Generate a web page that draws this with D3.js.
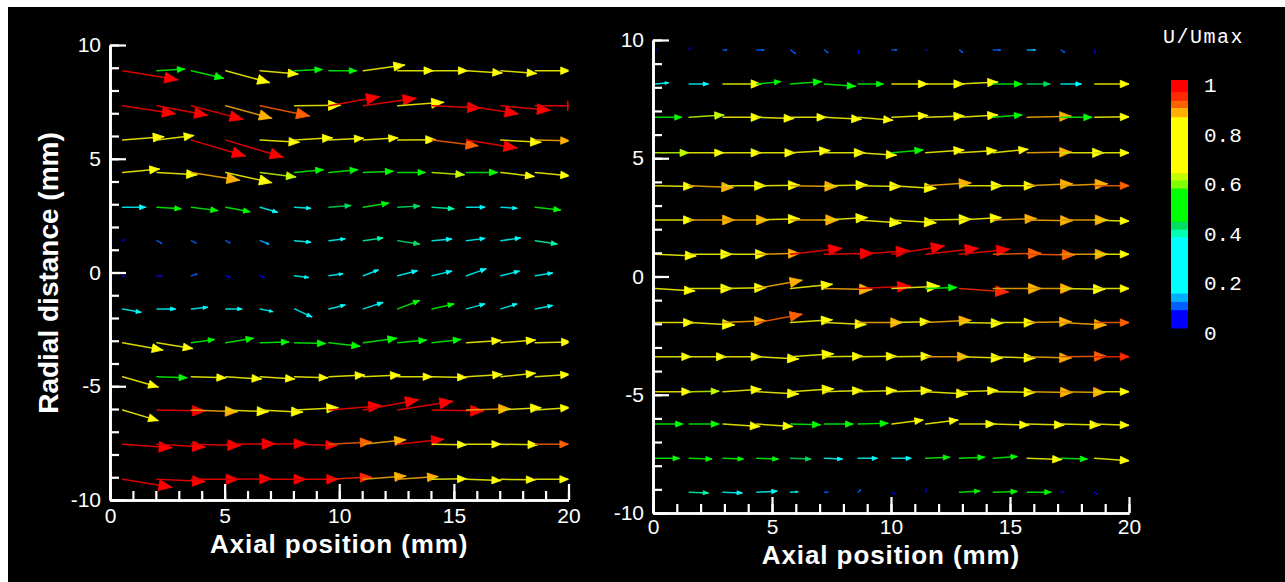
<!DOCTYPE html>
<html>
<head>
<meta charset="utf-8">
<script src="https://cdn.jsdelivr.net/npm/d3@7"></script>
<style>
  html, body { margin: 0; padding: 0; background: #fff; }
  svg { display: block; }
  .axis text { fill: #fff; font-family: "Liberation Sans", Arial, sans-serif; font-size: 21px; }
  .axis path, .axis line { stroke: #fff; }
  .title { fill: #fff; font-family: "Liberation Sans", Arial, sans-serif; font-weight: bold; font-size: 26px; }
  .legend text { fill: #fff; font-family: "Liberation Mono", "DejaVu Sans Mono", monospace; }
</style>
</head>
<body>
<div id="chart"></div>
<script>
// tick labels
const xTicks = [0, 5, 10, 15, 20]
const yTicks = [-10, -5, 0, 5, 10]
const legendTicks = [0, 0.2, 0.4, 0.6, 0.8, 1]

// U/Umax colour bands
const legendBreaks = [0.074, 0.107, 0.141, 0.369, 0.399, 0.43, 0.564, 0.597, 0.624, 0.852, 0.89, 0.919, 0.953]
const legendColors = ["#0000ff", "#0060ff", "#00b0ff", "#00ffff", "#00ffb0", "#00e060", "#00ff00",
                      "#80ff00", "#c0ff00", "#ffff00", "#ffb000", "#ff6000", "#ff2800", "#ff0000"]

// left field: grid (mm), axial / radial displacement (mm), U/Umax
const leftX = [0.55, 2.05, 3.55, 5.05, 6.55, 8.05, 9.55, 11.05, 12.55, 14.05, 15.55, 17.05, 18.55]
const leftY = [8.87, 7.33, 5.82, 4.40, 2.87, 1.40, -0.14, -1.60, -3.09, -4.58, -6.04, -7.55, -9.09]
const leftU = [
  [2.4, 1.2, 1.4, 1.9, 1.65, 1.2, 1.2, 1.8, 1.55, 1.55, 1.55, 1.55, 1.5],
  [2.3, 2.2, 2.25, 2.0, 2.15, 2.0, 2.2, 2.3, 2.0, 2.1, 2.25, 2.15, 1.9],
  [1.8, 1.6, 2.35, 2.5, 1.7, 1.65, 1.5, 1.5, 1.65, 2.0, 2.2, 1.75, 1.5],
  [1.6, 1.75, 2.1, 2.0, 1.55, 1.25, 1.25, 1.3, 1.2, 1.4, 1.35, 1.45, 1.5],
  [1.0, 1.05, 1.15, 1.05, 0.75, 0.7, 0.95, 1.1, 0.95, 0.95, 0.8, 0.7, 1.1],
  [0.1, 0.2, 0.2, 0.18, 0.38, 0.7, 0.7, 0.85, 0.95, 0.85, 0.8, 0.85, 0.95],
  [0.1, 0.2, 0.25, 0.18, 0.18, 0.6, 0.6, 0.65, 0.85, 0.85, 0.85, 0.8, 0.75],
  [0.8, 0.8, 0.7, 0.7, 0.55, 0.75, 0.7, 0.85, 0.95, 0.95, 0.8, 0.7, 0.75],
  [1.75, 1.55, 1.0, 1.2, 1.25, 1.35, 1.35, 1.45, 1.25, 1.25, 1.5, 1.5, 1.55],
  [1.55, 1.3, 1.5, 1.55, 1.5, 1.45, 1.55, 1.6, 1.5, 1.5, 1.55, 1.5, 1.5],
  [1.55, 2.1, 2.0, 1.85, 1.85, 1.9, 2.3, 2.4, 2.4, 2.25, 1.9, 1.75, 1.5],
  [2.15, 2.1, 2.15, 2.15, 2.0, 1.85, 1.85, 1.85, 2.0, 1.5, 1.5, 1.6, 1.45],
  [2.15, 2.1, 2.05, 2.0, 2.0, 1.9, 1.85, 1.85, 1.75, 1.5, 1.5, 1.5, 1.45]
]
const leftV = [
  [-0.4, 0.07, -0.33, -0.52, -0.15, 0.05, 0, 0.25, 0, 0, -0.1, -0.12, 0],
  [-0.35, -0.42, -0.6, -0.55, -0.45, 0.02, 0.4, 0.33, 0.15, -0.1, -0.35, -0.2, 0],
  [0.15, 0.2, -0.7, -0.75, -0.1, 0.1, 0.08, 0.1, 0.02, -0.25, -0.35, -0.1, -0.03],
  [0.15, -0.1, -0.35, -0.45, -0.2, 0.12, 0.12, 0.05, 0, -0.1, 0, -0.18, -0.15],
  [0, -0.07, -0.15, -0.2, -0.22, -0.05, 0.07, 0.18, 0.05, -0.07, 0, -0.05, -0.12],
  [0.05, -0.12, -0.1, -0.1, -0.15, -0.07, 0.08, 0.12, -0.15, 0.07, 0.1, 0.12, -0.15],
  [0, 0, 0.07, -0.07, -0.08, -0.08, 0.08, 0.25, 0.22, 0.2, 0.3, 0.2, 0.12],
  [-0.15, 0, 0.07, 0, -0.12, -0.35, 0.17, 0.28, 0.37, 0.22, 0.22, 0.22, 0.15],
  [-0.32, -0.25, 0.15, 0.2, 0.04, -0.03, -0.15, 0.2, 0.12, 0.15, 0.1, 0.12, 0.04],
  [-0.45, -0.05, -0.05, -0.1, -0.1, -0.05, 0.07, 0.07, 0, -0.03, 0.1, 0.15, 0.1],
  [-0.47, -0.05, -0.08, -0.08, -0.1, 0.1, 0.18, 0.45, 0.38, -0.05, 0.05, 0.1, 0.1],
  [-0.15, -0.12, -0.05, 0.02, 0.03, -0.05, 0.1, 0.2, 0.22, -0.02, 0, -0.02, 0],
  [-0.35, -0.1, 0, 0.02, 0, 0, 0.1, 0.15, 0.12, 0.02, -0.05, -0.02, 0]
]
const leftC = [
  [1, 0.5, 0.5, 0.78, 0.72, 0.5, 0.5, 0.75, 0.78, 0.78, 0.78, 0.78, 0.78],
  [1, 1, 1, 0.86, 0.9, 0.82, 1, 1, 0.8, 1, 1, 1, 1],
  [0.78, 0.8, 1, 1, 0.75, 0.75, 0.74, 0.75, 0.78, 0.9, 1, 0.84, 0.86],
  [0.72, 0.8, 0.88, 0.78, 0.6, 0.5, 0.5, 0.48, 0.48, 0.62, 0.55, 0.72, 0.68],
  [0.3, 0.45, 0.45, 0.43, 0.33, 0.3, 0.4, 0.45, 0.42, 0.38, 0.32, 0.3, 0.45],
  [0.05, 0.08, 0.08, 0.1, 0.12, 0.3, 0.3, 0.38, 0.4, 0.35, 0.33, 0.33, 0.38],
  [0.05, 0.06, 0.1, 0.06, 0.06, 0.28, 0.3, 0.3, 0.33, 0.33, 0.35, 0.32, 0.3],
  [0.3, 0.3, 0.3, 0.3, 0.28, 0.32, 0.32, 0.35, 0.45, 0.45, 0.35, 0.32, 0.32],
  [0.75, 0.75, 0.5, 0.5, 0.5, 0.5, 0.55, 0.55, 0.5, 0.52, 0.72, 0.75, 0.75],
  [0.66, 0.5, 0.7, 0.72, 0.72, 0.7, 0.74, 0.76, 0.78, 0.78, 0.78, 0.8, 0.8],
  [0.65, 1, 0.88, 0.84, 0.8, 0.85, 0.98, 1, 1, 1, 0.88, 0.8, 0.8],
  [1, 1, 1, 1, 0.98, 0.96, 0.9, 0.88, 0.97, 0.8, 0.8, 0.8, 0.9],
  [1, 1, 1, 1, 1, 0.97, 0.92, 0.88, 0.86, 0.8, 0.8, 0.8, 0.82]
]

// right field
const rightX = [0.1, 1.52, 2.94, 4.36, 5.78, 7.2, 8.62, 10.04, 11.46, 12.88, 14.3, 15.72, 17.14, 18.56]
const rightY = [9.58, 8.14, 6.73, 5.23, 3.84, 2.39, 0.94, -0.51, -1.95, -3.39, -4.87, -6.24, -7.69, -9.12]
const rightU = [
  [0.05, 0.05, 0.15, 0.3, 0.2, 0.15, 0.02, 0.2, 0.05, 0.12, 0.3, 0.35, 0.15, 0.02],
  [0.55, 0.8, 1.6, 1.0, 1.3, 1.3, 1.05, 1.5, 1.6, 1.6, 1.2, 0.95, 0.85, 1.45],
  [1.1, 1.45, 1.6, 1.55, 1.5, 1.55, 1.45, 1.5, 1.6, 1.6, 1.2, 1.85, 1.3, 1.45],
  [1.4, 1.45, 1.6, 1.6, 1.65, 1.7, 1.6, 1.3, 1.6, 1.55, 1.45, 1.85, 1.8, 1.45],
  [1.6, 1.85, 1.8, 1.8, 1.95, 1.8, 1.8, 1.85, 1.9, 1.8, 1.75, 1.9, 1.95, 1.45],
  [1.6, 1.9, 1.9, 1.8, 2.0, 1.8, 1.8, 1.85, 1.9, 1.75, 1.8, 1.9, 1.95, 1.45],
  [1.7, 1.8, 1.85, 1.8, 2.15, 2.05, 2.15, 2.2, 2.2, 2.1, 2.0, 2.0, 1.95, 1.45],
  [1.65, 1.8, 1.8, 1.9, 1.75, 2.0, 2.2, 2.0, 1.3, 2.05, 2.0, 1.9, 1.85, 1.45],
  [1.6, 1.9, 1.8, 1.9, 1.75, 1.75, 1.85, 1.6, 1.9, 1.8, 1.75, 1.85, 1.9, 1.45],
  [1.5, 1.55, 1.6, 1.75, 1.8, 1.6, 1.6, 1.65, 1.8, 1.8, 1.75, 1.85, 1.9, 1.45],
  [1.5, 1.25, 1.6, 1.75, 1.8, 1.6, 1.6, 1.65, 1.75, 1.6, 1.75, 1.9, 1.85, 1.45],
  [1.15, 1.25, 1.55, 1.5, 1.25, 1.2, 1.25, 1.3, 1.35, 1.5, 1.5, 1.55, 1.65, 1.45],
  [1.0, 0.95, 0.85, 0.9, 0.85, 0.75, 0.8, 0.8, 1.0, 1.05, 1.0, 1.45, 1.1, 1.45],
  [0, 0.8, 0.8, 0.85, 0.3, 0.15, 0.1, 0.12, 0.02, 0.85, 1.0, 1.0, 0.1, 0.1]
]
const rightV = [
  [0, 0.1, 0, 0, -0.15, -0.12, -0.15, 0, 0, -0.1, 0, 0, -0.1, -0.12],
  [0.05, 0, 0, 0.1, 0.1, -0.1, 0, 0, 0, 0.08, 0, 0, 0, 0],
  [0, 0.1, 0, -0.05, 0, -0.08, -0.12, 0.08, 0.06, 0.1, 0.1, 0.05, 0, 0.02],
  [0, 0, 0, 0, 0.1, 0, -0.1, 0.12, 0.12, 0.1, 0.15, 0.03, 0, 0],
  [-0.03, -0.08, 0, 0.02, -0.03, 0.03, -0.03, -0.12, 0.12, 0, 0, 0.08, 0.08, 0],
  [0, 0, 0, 0.05, 0, 0.1, -0.13, -0.12, 0.03, 0.1, 0.06, -0.03, 0, -0.05],
  [-0.07, 0, 0, 0.04, 0.25, 0.04, 0.15, 0.35, 0.25, 0.21, 0.04, -0.03, 0, 0],
  [-0.1, 0, 0.04, 0.35, 0.18, -0.04, 0.1, 0.1, 0.05, -0.15, 0, 0, -0.03, 0],
  [0, -0.1, 0.08, 0.35, 0.12, -0.08, 0, 0.04, 0.1, -0.03, 0, 0.04, -0.1, 0],
  [0, 0, 0, -0.1, 0.12, 0.02, 0.02, 0.02, 0, -0.06, -0.06, -0.06, 0.02, 0],
  [0, 0.02, 0.1, -0.1, 0.12, 0.05, 0.05, 0.05, -0.1, 0.05, -0.03, -0.03, -0.03, 0],
  [0, 0, -0.1, -0.1, -0.03, 0, 0.03, 0.17, 0.17, 0, -0.04, -0.04, -0.04, -0.05],
  [0, -0.03, -0.03, -0.03, -0.03, -0.03, 0, 0, 0.05, 0.05, 0.08, -0.05, -0.03, -0.1],
  [0, -0.03, -0.03, 0.04, 0.02, 0, 0.1, -0.08, 0.12, 0.05, 0.03, 0, 0, -0.1]
]
const rightC = [
  [0.06, 0.06, 0.08, 0.1, 0.1, 0.08, 0.06, 0.08, 0.06, 0.08, 0.1, 0.12, 0.08, 0.06],
  [0.28, 0.3, 0.75, 0.5, 0.5, 0.48, 0.47, 0.72, 0.75, 0.75, 0.5, 0.4, 0.35, 0.72],
  [0.5, 0.6, 0.75, 0.74, 0.75, 0.65, 0.7, 0.75, 0.76, 0.74, 0.5, 0.86, 0.5, 0.72],
  [0.62, 0.72, 0.74, 0.74, 0.76, 0.76, 0.74, 0.52, 0.75, 0.66, 0.72, 0.86, 0.78, 0.85],
  [0.8, 0.87, 0.8, 0.78, 0.86, 0.78, 0.78, 0.78, 0.86, 0.78, 0.78, 0.88, 0.88, 0.9],
  [0.82, 0.88, 0.88, 0.85, 0.88, 0.8, 0.8, 0.8, 0.8, 0.8, 0.86, 0.88, 0.88, 0.8],
  [0.8, 0.8, 0.8, 0.86, 0.97, 0.96, 0.98, 1, 1, 0.98, 0.9, 0.9, 0.86, 0.82],
  [0.8, 0.8, 0.8, 0.88, 0.78, 0.88, 1, 0.8, 0.55, 0.95, 0.88, 0.86, 0.82, 0.82],
  [0.8, 0.82, 0.86, 0.9, 0.8, 0.8, 0.86, 0.8, 0.86, 0.8, 0.8, 0.88, 0.88, 0.9],
  [0.78, 0.78, 0.8, 0.8, 0.8, 0.78, 0.78, 0.8, 0.86, 0.8, 0.8, 0.86, 0.9, 0.92],
  [0.76, 0.6, 0.75, 0.78, 0.78, 0.78, 0.78, 0.78, 0.8, 0.78, 0.8, 0.86, 0.86, 0.8],
  [0.5, 0.52, 0.74, 0.74, 0.5, 0.5, 0.5, 0.65, 0.72, 0.75, 0.76, 0.78, 0.78, 0.76],
  [0.48, 0.46, 0.45, 0.45, 0.42, 0.35, 0.33, 0.34, 0.48, 0.5, 0.5, 0.72, 0.5, 0.72],
  [0.05, 0.38, 0.33, 0.33, 0.3, 0.08, 0.08, 0.06, 0.06, 0.45, 0.48, 0.48, 0.06, 0.06]
]

const width = 1285
const height = 582
const color = d3.scaleThreshold().domain(legendBreaks).range(legendColors)

const svg = d3.select("#chart").append("svg")
  .attr("width", width)
  .attr("height", height)

// white frame edge, black plot sheet
svg.append("rect").attr("width", width).attr("height", height).attr("fill", "#fff")
svg.append("rect").attr("x", 8).attr("y", 7).attr("width", width - 8).attr("height", height - 7).attr("fill", "#000")

const vectorPanel = (id, box, cols, rows, U, V, C) => {
  let x = d3.scaleLinear().domain([0, 20]).range([box.left, box.right])
  let y = d3.scaleLinear().domain([-10, 10]).range([box.bottom, box.top])
  let g = svg.append("g").attr("class", id)

  g.append("clipPath").attr("id", id + "-clip")
    .append("rect")
    .attr("x", box.left).attr("y", 0)
    .attr("width", box.right - box.left).attr("height", height)

  let arrows = []
  rows.forEach((ry, i) => cols.forEach((cx, j) => {
    arrows.push({ x0: cx, y0: ry, x1: cx + U[i][j], y1: ry + V[i][j], c: C[i][j] })
  }))

  let head = d => {
    let sx = x(d.x0), sy = y(d.y0), ex = x(d.x1), ey = y(d.y1)
    let dx = ex - sx, dy = ey - sy, len = Math.hypot(dx, dy)
    if (len < 3) return null
    let ux = dx / len, uy = dy / len
    let hl = Math.min(len * 0.26, 13), hw = hl * 0.42
    let bx = ex - ux * hl, by = ey - uy * hl
    return `M${ex},${ey}L${bx - uy * hw},${by + ux * hw}L${bx + uy * hw},${by - ux * hw}Z`
  }

  let vec = g.append("g").attr("clip-path", `url(#${id}-clip)`)
    .selectAll(".vec")
    .data(arrows)
    .enter()
    .append("g")
    .attr("class", "vec")

  // shafts read darker than the heads in the reference
  vec.append("line")
    .attr("x1", d => x(d.x0)).attr("y1", d => y(d.y0))
    .attr("x2", d => x(d.x1)).attr("y2", d => y(d.y1))
    .attr("stroke", d => d3.color(color(d.c)).darker(0.45))
    .attr("stroke-width", 1.5)
    .attr("stroke-linecap", "round")

  vec.filter(d => head(d) !== null)
    .append("path")
    .attr("d", head)
    .attr("fill", d => color(d.c))
    .attr("stroke", d => color(d.c))
    .attr("stroke-width", 0.8)

  // axes, ticks pointing inward
  let gx = g.append("g").attr("class", "x axis").attr("transform", `translate(0,${box.bottom})`)
  gx.append("g")
    .call(d3.axisBottom(x).tickValues(d3.range(0, 21)).tickSize(-9).tickSizeOuter(0).tickFormat(""))
  gx.append("g")
    .call(d3.axisBottom(x).tickValues(xTicks).tickSize(-16).tickSizeOuter(0).tickPadding(box.pad).tickFormat(d => String(d)))

  let gy = g.append("g").attr("class", "y axis").attr("transform", `translate(${box.left},0)`)
  gy.append("g")
    .call(d3.axisLeft(y).tickValues(d3.range(-10, 11)).tickSize(-9).tickSizeOuter(0).tickFormat(""))
  gy.append("g")
    .call(d3.axisLeft(y).tickValues(yTicks).tickSize(-16).tickSizeOuter(0).tickPadding(9).tickFormat(d => String(d)))

  g.selectAll(".axis g").attr("font-size", null).attr("font-family", null)
  g.selectAll(".axis path").attr("stroke-width", 2.6)
  g.selectAll(".axis line").attr("stroke-width", 2.2)

  g.append("text")
    .attr("class", "title")
    .attr("x", (box.left + box.right) / 2)
    .attr("y", box.titleY)
    .attr("text-anchor", "middle")
    .attr("letter-spacing", 0.9)
    .text("Axial position (mm)")
}

vectorPanel("left", { left: 110, right: 568.5, top: 45, bottom: 500, pad: 8, titleY: 553 },
  leftX, leftY, leftU, leftV, leftC)
vectorPanel("right", { left: 653, right: 1129, top: 40, bottom: 513, pad: 6, titleY: 564 },
  rightX, rightY, rightU, rightV, rightC)

svg.append("text")
  .attr("class", "title")
  .attr("transform", "translate(58,273) rotate(-90)")
  .attr("text-anchor", "middle")
  .attr("font-size", 28)
  .style("font-size", "28px")
  .text("Radial distance (mm)")

// colour legend
let legend = svg.append("g").attr("class", "legend")
let ly = d3.scaleLinear().domain([0, 1]).range([328, 80])
let bands = legendColors.map((c, i) => ({
  lo: i === 0 ? 0 : legendBreaks[i - 1],
  hi: i === legendBreaks.length ? 1 : legendBreaks[i],
  c: c
}))

legend.selectAll("rect")
  .data(bands)
  .enter()
  .append("rect")
  .attr("x", 1171)
  .attr("width", 17)
  .attr("y", d => ly(d.hi))
  .attr("height", d => ly(d.lo) - ly(d.hi) + 0.5)
  .attr("fill", d => d.c)

legend.selectAll(".tick")
  .data(legendTicks)
  .enter()
  .append("text")
  .attr("class", "tick")
  .attr("x", 1204)
  .attr("y", d => ly(d) + 12)
  .attr("font-size", 21)
  .text(d => (d === 0 || d === 1) ? String(d) : d.toFixed(1))

legend.append("text")
  .attr("x", 1163)
  .attr("y", 43)
  .attr("font-size", 20)
  .attr("letter-spacing", 1.5)
  .text("U/Umax")
</script>
</body>
</html>
